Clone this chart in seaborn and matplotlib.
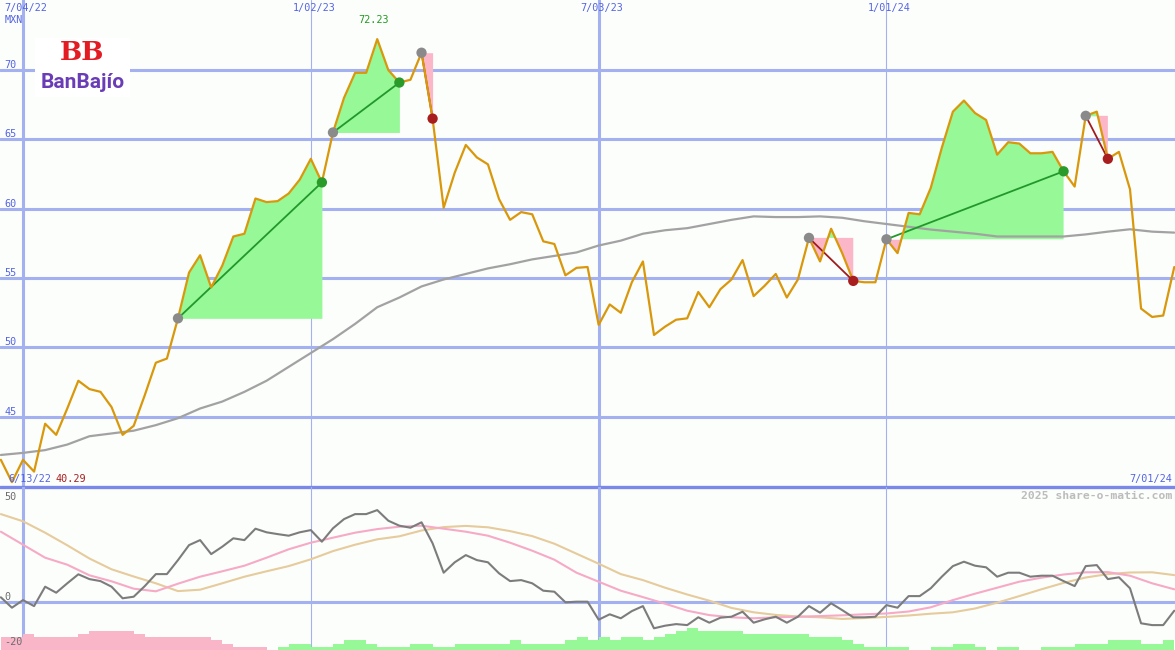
import matplotlib
matplotlib.use("Agg")
import matplotlib.pyplot as plt
import matplotlib.dates as mdates
import numpy as np
import pandas as pd
import seaborn as sns

# weekly closes (MXN), first point 20 Jun 2022
start = "2022-06-20"
price = [
    41.9, 40.29, 41.9, 41.05, 44.5, 43.7, 45.6, 47.6, 47.0, 46.8,
    45.7, 43.7, 44.35, 46.56, 48.9, 49.2, 52.1, 55.4, 56.65, 54.33,
    55.9, 58.0, 58.2, 60.74, 60.48, 60.55, 61.1, 62.1, 63.6, 61.9,
    65.5, 68.0, 69.8, 69.8, 72.23, 70.0, 69.1, 69.3, 71.25, 66.5,
    60.07, 62.6, 64.6, 63.7, 63.2, 60.7, 59.2, 59.76, 59.6, 57.65,
    57.46, 55.2, 55.74, 55.8, 51.63, 53.1, 52.5, 54.7, 56.2, 50.9,
    51.5, 52.0, 52.1, 54.0, 52.9, 54.2, 54.9, 56.3, 53.7, 54.45,
    55.3, 53.6, 54.9, 57.9, 56.2, 58.56, 56.8, 54.8, 54.7, 54.7,
    57.8, 56.8, 59.7, 59.6, 61.5, 64.4, 67.0, 67.8, 66.9, 66.4,
    63.9, 64.8, 64.7, 64.0, 64.0, 64.1, 62.7, 61.6, 66.7, 67.0,
    63.6, 64.1, 61.4, 52.8, 52.2, 52.3, 55.8,
]
# moving average, every second week
ma_price = [
    42.25, 42.4, 42.6, 43.0, 43.6, 43.8, 44.0, 44.4, 44.9, 45.6,
    46.1, 46.8, 47.6, 48.6, 49.6, 50.6, 51.7, 52.9, 53.6, 54.4,
    54.9, 55.3, 55.7, 56.0, 56.35, 56.6, 56.85, 57.35, 57.7, 58.2,
    58.45, 58.6, 58.9, 59.2, 59.45, 59.4, 59.4, 59.45, 59.35, 59.1,
    58.9, 58.7, 58.5, 58.35, 58.2, 58.0, 58.0, 58.0, 58.0, 58.15,
    58.35, 58.52, 58.35, 58.28,
]
# oscillator (weekly) and its two averages (every second week)
osc = [
    2.2, -3.0, 0.8, -2.2, 7.5, 4.5, 9.2, 13.7, 11.3, 10.3,
    7.5, 1.7, 2.5, 7.8, 13.8, 13.8, 20.8, 28.3, 30.8, 23.8,
    27.5, 31.7, 30.8, 36.5, 34.7, 33.8, 33.0, 34.7, 35.8, 30.0,
    36.7, 41.3, 43.8, 43.8, 45.8, 40.5, 38.0, 37.0, 39.7, 29.2,
    14.5, 19.7, 23.3, 20.8, 19.7, 14.2, 10.3, 10.8, 9.2, 5.5,
    5.0, -0.3, 0.0, 0.0, -9.0, -6.3, -8.3, -4.7, -2.2, -13.3,
    -12.0, -11.2, -11.7, -7.8, -10.5, -8.0, -7.5, -5.0, -10.5, -8.8,
    -7.5, -10.5, -7.5, -2.2, -5.5, -0.8, -4.2, -7.8, -7.8, -7.5,
    -1.7, -3.0, 2.8, 2.8, 6.7, 12.5, 17.8, 20.0, 18.0, 17.2,
    12.5, 14.5, 14.5, 12.5, 13.0, 13.0, 10.3, 7.8, 17.8, 18.3,
    11.3, 12.2, 6.7, -10.8, -11.7, -11.7, -4.5,
]
osc_fast = [
    35.0, 28.5, 22.0, 18.5, 13.2, 10.2, 6.5, 5.2, 9.0, 12.5,
    15.2, 18.0, 22.0, 26.2, 29.5, 32.0, 34.5, 36.3, 37.5, 38.0,
    36.5, 35.0, 33.0, 29.5, 25.5, 21.0, 14.5, 10.0, 5.5, 2.3,
    -1.0, -4.5, -6.7, -7.8, -8.3, -7.8, -7.5, -7.2, -6.8, -6.3,
    -5.9, -4.9, -2.8, 0.8, 4.0, 7.0, 10.0, 12.0, 13.6, 14.7,
    14.8, 13.0, 9.2, 6.2,
]
osc_slow = [
    43.8, 40.2, 34.5, 28.2, 21.6, 16.2, 12.6, 9.2, 5.3, 6.0,
    9.2, 12.5, 15.2, 17.8, 21.2, 25.3, 28.5, 31.2, 32.7, 35.6,
    37.3, 37.9, 37.2, 35.3, 32.8, 29.0, 24.0, 19.0, 13.8, 10.8,
    7.0, 3.6, 0.5, -3.1, -5.3, -6.6, -7.4, -7.8, -8.6, -8.2,
    -7.6, -6.9, -6.0, -5.3, -3.4, -0.5, 2.8, 6.2, 9.4, 12.1,
    13.8, 14.6, 14.7, 13.3,
]
# weekly histogram levels (negative = pink, positive = green)
hist = [
    -4, -4, -5, -4, -4, -4, -4, -5, -6, -6,
    -6, -6, -5, -4, -4, -4, -4, -4, -4, -3,
    -2, -1, -1, -1, 0, 1, 2, 2, 1, 1,
    2, 3, 3, 2, 1, 1, 1, 2, 2, 1,
    1, 2, 2, 2, 2, 2, 3, 2, 2, 2,
    2, 3, 4, 3, 4, 3, 4, 4, 3, 4,
    5, 6, 7, 6, 6, 6, 6, 5, 5, 5,
    5, 5, 5, 4, 4, 4, 3, 2, 1, 1,
    1, 1, 0, 0, 1, 1, 2, 2, 1, 0,
    1, 1, 0, 0, 1, 1, 1, 2, 2, 2,
    3, 3, 3, 2, 2, 3,
]
trade_entry = [16, 30, 38, 73, 80, 98]
trade_exit = [29, 36, 39, 77, 96, 100]
grid_dates = ["2022-07-04", "2023-01-02", "2023-07-03", "2024-01-01"]
grid_labels = ["7/04/22", "1/02/23", "7/03/23", "1/01/24"]
price_ticks = [45, 50, 55, 60, 65, 70]
osc_ticks = [50, 0, -20]
low_label = "6/13/22"
end_label = "7/01/24"

BG = "#fcfefc"
GRID = "#a3b1f1"
BLUE_TXT = "#5464e4"
ORANGE = "#d9980c"
GREEN_FILL = "#96f896"
PINK_FILL = "#fbb6c8"

sns.set_style("white")
plt.rcParams["font.family"] = ["DejaVu Sans Mono", "DejaVu Sans"]

W, H = 1175, 650
fig = plt.figure(figsize=(W / 100, H / 100), dpi=100)
fig.patch.set_facecolor(BG)
split = 163 / H
ax1 = fig.add_axes([0, split, 1, 1 - split])
ax2 = fig.add_axes([0, 0, 1, split])

x = mdates.date2num(pd.date_range(start, periods=len(price), freq="7D"))
xm = mdates.date2num(pd.date_range(start, periods=len(ma_price), freq="14D"))
xb = mdates.date2num(pd.date_range(start, periods=len(hist), freq="7D"))
gx = mdates.date2num(pd.to_datetime(grid_dates))
x0 = gx[0] - 23 / 11.07 * 7
x1 = gx[0] + (W - 23) / 11.07 * 7
p = np.array(price)

df = pd.DataFrame({"x": x, "price": price, "osc": osc})
dm = pd.DataFrame({"x": xm, "ma": ma_price, "fast": osc_fast, "slow": osc_slow})

# ---- price panel
for v in price_ticks:
    ax1.axhline(v, color=GRID, lw=2.2, zorder=1)
    ax1.text(0.004, v, str(v), transform=ax1.get_yaxis_transform(), va="bottom",
             ha="left", color=BLUE_TXT, fontsize=7.3, zorder=6)
for g, lab in zip(gx, grid_labels):
    lw = 2.2 if mdates.num2date(g).month == 7 else 0.8
    ax1.axvline(g, color=GRID, lw=lw, zorder=1)
    ax2.axvline(g, color=GRID, lw=lw, zorder=1)
    ax1.annotate(lab, (g, 1 - 8 / 487), xycoords=ax1.get_xaxis_transform(),
                 xytext=(3, 0), textcoords="offset pixels", ha="center",
                 va="center", color=BLUE_TXT, fontsize=7.3)

for a, b in zip(trade_entry, trade_exit):
    xs, ys, lvl = x[a:b + 1], p[a:b + 1], p[a]
    ax1.fill_between(xs, ys, lvl, where=ys >= lvl, interpolate=True,
                     color=GREEN_FILL, lw=0, zorder=2)
    ax1.fill_between(xs, ys, lvl, where=ys <= lvl, interpolate=True,
                     color=PINK_FILL, lw=0, zorder=2)

sns.lineplot(data=dm, x="x", y="ma", ax=ax1, color="#a2a2a2", lw=1.6, zorder=3)

for a, b in zip(trade_entry, trade_exit):
    win = p[b] > p[a]
    ax1.plot([x[a], x[b]], [p[a], p[b]], color="#22982a" if win else "#a01c1c",
             lw=1.3, zorder=4)

sns.lineplot(data=df, x="x", y="price", ax=ax1, color=ORANGE, lw=1.6, zorder=5)

ent = df.iloc[trade_entry]
ext = df.iloc[trade_exit]
ext_col = ["#2a9a2a" if p[b] > p[a] else "#a81e1e" for a, b in zip(trade_entry, trade_exit)]
sns.scatterplot(data=ent, x="x", y="price", ax=ax1, color="#8a8a8a", s=55,
                edgecolor="none", zorder=6)
ax1.scatter(ext["x"], ext["price"], c=ext_col, s=55, edgecolors="none", zorder=6)

imax, imin = int(np.argmax(p)), int(np.argmin(p))
ax1.annotate(f"{p[imax]:.2f}", (x[imax], p[imax]), xytext=(-4, 14),
             textcoords="offset pixels", ha="center", va="bottom",
             color="#229a22", fontsize=7.3)

ax1.set_xlim(x0, x1)
ax1.set_ylim(39.94, 75.05)
ax1.set_axis_off()

# ---- oscillator panel
ax2.axhline(0, color=GRID, lw=2.2, zorder=1)
sns.lineplot(data=dm, x="x", y="slow", ax=ax2, color="#e6cb9c", lw=1.5, zorder=3)
sns.lineplot(data=dm, x="x", y="fast", ax=ax2, color="#f6aac6", lw=1.5, zorder=3)
sns.lineplot(data=df, x="x", y="osc", ax=ax2, color="#7c7c7c", lw=1.5, zorder=4)
ax2.set_xlim(x0, x1)
ax2.set_ylim(-24.15, 57.35)
ax2.set_axis_off()

ax3 = ax2.twinx()
h = np.array(hist)
ax3.bar(xb, np.abs(h), width=7, align="edge", lw=0,
        color=[GREEN_FILL if v > 0 else "#f9b6c8" for v in h], zorder=1)
ax3.set_xlim(x0, x1)
ax3.set_ylim(0, 163 / 3.17)
ax3.set_axis_off()
for v in osc_ticks:
    ax3.text(0.004, v, str(v), transform=ax2.get_yaxis_transform(),
             va="center" if v < 0 else "bottom", ha="left", color="#6c6c6c",
             fontsize=7.3, zorder=6)

# panel separator
ax1.axhline(39.94, color="#7a88ea", lw=2.4, clip_on=False, zorder=7)


def fx(px, py):
    return px / W, 1 - py / H


fig.text(*fx(5, 20), "MXN", color=BLUE_TXT, fontsize=7.3, va="center")
fig.text(*fx(8, 479), low_label, color=BLUE_TXT, fontsize=7.3, va="center")
fig.text(*fx(56, 479), f"{p[imin]:.2f}", color="#a82020", fontsize=7.3, va="center")
fig.text(*fx(1172, 479), end_label, color=BLUE_TXT, fontsize=7.3, va="center", ha="right")
fig.text(*fx(1172, 496), "2025 share-o-matic.com", color="#bcbcbc", fontsize=8.2,
         fontweight="bold", va="center", ha="right")

# logo
fig.patches.append(plt.Rectangle(fx(35, 97), 95 / W, 59 / H, transform=fig.transFigure,
                                 facecolor="white", edgecolor="none", zorder=1))
fig.text(*fx(82, 53), "BB", family="DejaVu Serif", fontweight="bold", fontsize=19,
         color="#e31b23", ha="center", va="center", zorder=2)
fig.text(*fx(83, 83), "BanBajío", family=["Roboto", "DejaVu Sans"], fontweight="bold",
         fontsize=15, color="#6a3cb6", ha="center", va="center", zorder=2)

fig.savefig("out.png", dpi=100, facecolor=BG)
